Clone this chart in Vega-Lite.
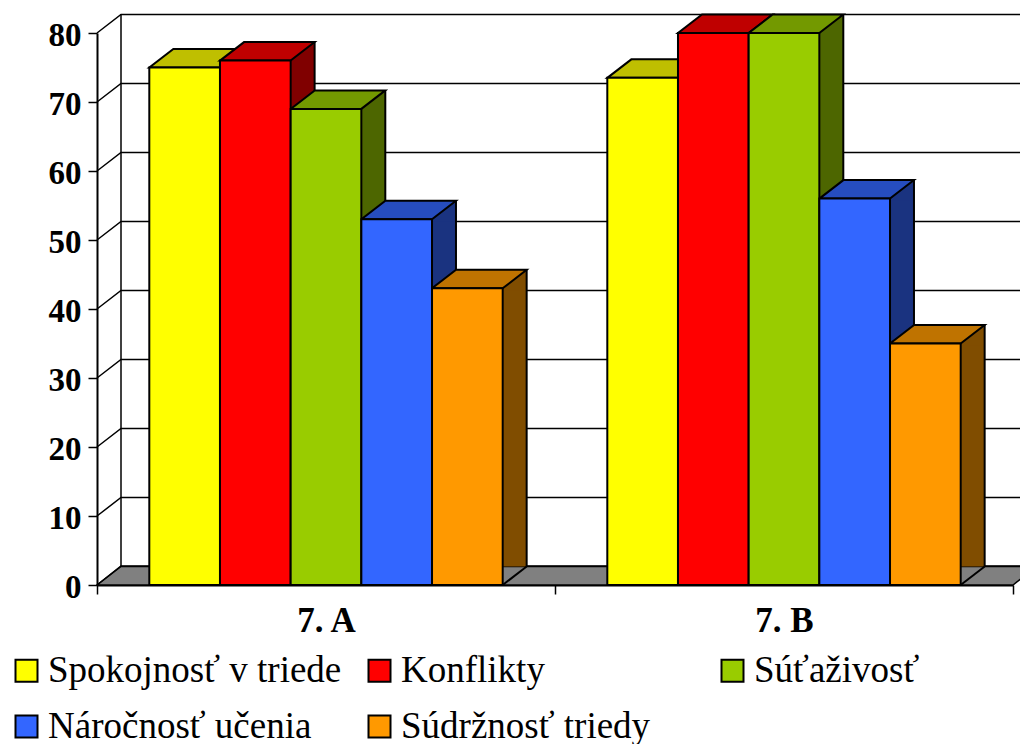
{
"$schema":"https://vega.github.io/schema/vega-lite/v6.json",
"autosize":{"type":"none"},
"padding":{"left":97,"top":33,"right":7,"bottom":159},
"width":916,"height":552,
"background":"white",
"datasets":{
"bars":[
{"group":"7. A","series":"Spokojnosť v triede","value":75},
{"group":"7. A","series":"Konflikty","value":76},
{"group":"7. A","series":"Súťaživosť","value":69},
{"group":"7. A","series":"Náročnosť učenia","value":53},
{"group":"7. A","series":"Súdržnosť triedy","value":43},
{"group":"7. B","series":"Spokojnosť v triede","value":73.5},
{"group":"7. B","series":"Konflikty","value":80},
{"group":"7. B","series":"Súťaživosť","value":80},
{"group":"7. B","series":"Náročnosť učenia","value":56},
{"group":"7. B","series":"Súdržnosť triedy","value":35}
],
"ticks":[{"group":"7. A","tick":0},{"group":"7. A","tick":10},{"group":"7. A","tick":20},{"group":"7. A","tick":30},{"group":"7. A","tick":40},{"group":"7. A","tick":50},{"group":"7. A","tick":60},{"group":"7. A","tick":70},{"group":"7. A","tick":80}],
"base":[{"group":"7. A","tick":0}]
},
"config":{"view":{"stroke":null},"font":"Liberation Serif"},
"layer":[
{"data":{"name":"base"},
"mark":{"type":"point","filled":true,"opacity":1,"fill":"#808080","stroke":"black","strokeWidth":1.5,"size":4,"shape":"M0 0L24 -19L940 -19L916 0Z"},
"encoding":{"x":{"field":"group","type":"nominal","bandPosition":0,"scale":{"domain":["7. A","7. B"],"type":"band","paddingInner":0,"paddingOuter":0},"axis":{"title":null,"domainColor":"black","domainWidth":2,"tickBand":"extent","tickColor":"black","tickWidth":1.5,"tickSize":9,"labelAngle":0,"labelFont":"Liberation Serif","labelFontWeight":"bold","labelFontSize":35,"labelColor":"black","labelPadding":9}},
"y":{"field":"tick","type":"quantitative","scale":{"domain":[0,80]},"axis":{"title":null,"values":[0,10,20,30,40,50,60,70,80],"grid":false,"domainColor":"black","domainWidth":2,"tickColor":"black","tickWidth":1.5,"tickSize":9,"labelFont":"Liberation Serif","labelFontWeight":"bold","labelFontSize":33,"labelColor":"black","labelPadding":7,"labelOffset":2}}}},
{"data":{"name":"ticks"},
"mark":{"type":"point","filled":false,"opacity":1,"stroke":"black","strokeWidth":1.5,"size":4,"shape":"M0 0L24 -18.5L940 -18.5"},
"encoding":{"x":{"field":"group","type":"nominal","bandPosition":0},"y":{"field":"tick","type":"quantitative"}}},
{"data":{"name":"base"},
"mark":{"type":"point","filled":false,"opacity":1,"stroke":"black","strokeWidth":1.5,"size":4,"shape":"M24 -19L24 -571"},
"encoding":{"x":{"field":"group","type":"nominal","bandPosition":0},"y":{"field":"tick","type":"quantitative"}}},
{"data":{"name":"bars"},
"mark":{"type":"bar","width":24,"y2Offset":-18.5,"strokeWidth":0},
"encoding":{"x":{"field":"group","type":"nominal"},
"xOffset":{"field":"series","type":"nominal","scale":{"type":"band","domain":["Spokojnosť v triede","Konflikty","Súťaživosť","Náročnosť učenia","Súdržnosť triedy"],"paddingInner":0,"paddingOuter":0.74,"range":[47.3,505.3]}},
"y":{"field":"value","type":"quantitative","stack":null},"y2":{"datum":0},
"color":{"field":"series","type":"nominal","legend":null,"scale":{"domain":["Spokojnosť v triede","Konflikty","Súťaživosť","Náročnosť učenia","Súdržnosť triedy"],"range":["#808000","#800000","#4D6600","#1A3380","#804D00"]}}}},
{"data":{"name":"bars"},
"mark":{"type":"point","filled":true,"opacity":1,"strokeWidth":0,"size":4,"shape":"M35.3 0L59.3 -18.5L59.3 2L35.3 2Z"},
"encoding":{"x":{"field":"group","type":"nominal"},"xOffset":{"field":"series","type":"nominal","scale":{"type":"band","domain":["Spokojnosť v triede","Konflikty","Súťaživosť","Náročnosť učenia","Súdržnosť triedy"],"paddingInner":0,"paddingOuter":0.74}},
"y":{"field":"value","type":"quantitative"},
"color":{"field":"series","type":"nominal","legend":null,"scale":{"domain":["Spokojnosť v triede","Konflikty","Súťaživosť","Náročnosť učenia","Súdržnosť triedy"],"range":["#808000","#800000","#4D6600","#1A3380","#804D00"]}}}},
{"data":{"name":"bars"},
"mark":{"type":"rule","y2Offset":-18.5,"yOffset":-18.5,"stroke":"black","strokeWidth":2},
"encoding":{"x":{"field":"group","type":"nominal"},"xOffset":{"field":"series","type":"nominal","scale":{"type":"band","domain":["Spokojnosť v triede","Konflikty","Súťaživosť","Náročnosť učenia","Súdržnosť triedy"],"paddingInner":0,"paddingOuter":0.74,"range":[59.3,517.3]}},
"y":{"field":"value","type":"quantitative"},"y2":{"datum":0}}},
{"data":{"name":"bars"},
"mark":{"type":"point","filled":true,"opacity":1,"stroke":"black","strokeWidth":2,"size":4,"shape":"M-35.3 0L35.3 0L59.3 -18.5L-11.3 -18.5Z"},
"encoding":{"x":{"field":"group","type":"nominal"},"xOffset":{"field":"series","type":"nominal","scale":{"type":"band","domain":["Spokojnosť v triede","Konflikty","Súťaživosť","Náročnosť učenia","Súdržnosť triedy"],"paddingInner":0,"paddingOuter":0.74}},
"y":{"field":"value","type":"quantitative"},
"color":{"field":"series","type":"nominal","legend":null,"scale":{"domain":["Spokojnosť v triede","Konflikty","Súťaživosť","Náročnosť učenia","Súdržnosť triedy"],"range":["#BFBF00","#BF0000","#739900","#264DBF","#BF7300"]}}}},
{"data":{"name":"bars"},
"mark":{"type":"point","filled":false,"opacity":1,"stroke":"black","strokeWidth":2,"size":4,"shape":"M35.3 0L59.3 -18.5"},
"encoding":{"x":{"field":"group","type":"nominal"},"xOffset":{"field":"series","type":"nominal","scale":{"type":"band","domain":["Spokojnosť v triede","Konflikty","Súťaživosť","Náročnosť učenia","Súdržnosť triedy"],"paddingInner":0,"paddingOuter":0.74}},
"y":{"datum":0}}},
{"data":{"name":"bars"},
"mark":{"type":"bar","stroke":"black","strokeWidth":2},
"encoding":{"x":{"field":"group","type":"nominal"},"xOffset":{"field":"series","type":"nominal","scale":{"type":"band","domain":["Spokojnosť v triede","Konflikty","Súťaživosť","Náročnosť učenia","Súdržnosť triedy"],"paddingInner":0,"paddingOuter":0.74}},
"y":{"field":"value","type":"quantitative","stack":null},
"color":{"field":"series","type":"nominal","scale":{"domain":["Spokojnosť v triede","Konflikty","Súťaživosť","Náročnosť učenia","Súdržnosť triedy"],"range":["#FFFF00","#FF0000","#99CC00","#3366FF","#FF9900"]},
"legend":{"title":null,"orient":"none","legendX":-89,"legendY":619,"padding":0,"values":["Spokojnosť v triede","Náročnosť učenia","Konflikty","Súdržnosť triedy","Súťaživosť"],"columns":3,"gridAlign":"all","columnPadding":19,"rowPadding":18,"symbolType":"square","symbolSize":484,"symbolStrokeColor":"black","symbolStrokeWidth":2,"symbolOpacity":1,"labelFont":"Liberation Serif","labelFontSize":37,"labelColor":"black","labelOffset":3,"labelLimit":400}}}}
],
"resolve":{"scale":{"color":"independent","xOffset":"independent"}}
}
